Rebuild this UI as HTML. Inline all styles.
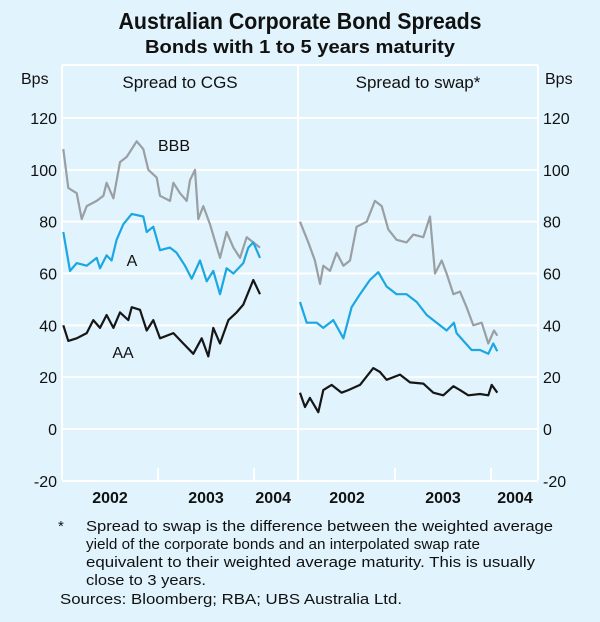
<!DOCTYPE html>
<html><head><meta charset="utf-8"><style>
html,body{margin:0;padding:0;background:#e1f3fc;}
svg{display:block;font-family:"Liberation Sans",Arial,sans-serif;}
</style></head><body>
<svg id="chart" width="600" height="622" viewBox="0 0 600 622">
<rect x="0" y="0" width="600" height="622" fill="#e1f3fc"/>
<text x="300" y="29" text-anchor="middle" font-size="23" font-weight="bold" fill="#111" textLength="363" lengthAdjust="spacingAndGlyphs">Australian Corporate Bond Spreads</text>
<text x="300" y="53" text-anchor="middle" font-size="18" font-weight="bold" fill="#111" textLength="310" lengthAdjust="spacingAndGlyphs">Bonds with 1 to 5 years maturity</text>
<g id="grid"></g>
<g id="series"></g>
<g id="axes"></g>
<text x="21" y="84" font-size="16" fill="#111">Bps</text>
<text x="545" y="84" font-size="16" fill="#111">Bps</text>
<text x="180" y="88" text-anchor="middle" font-size="17" fill="#111">Spread to CGS</text>
<text x="418" y="88" text-anchor="middle" font-size="17" fill="#111">Spread to swap*</text>
<text x="174" y="151" text-anchor="middle" font-size="16" fill="#111">BBB</text>
<text x="132" y="266" text-anchor="middle" font-size="16" fill="#111">A</text>
<text x="123" y="358" text-anchor="middle" font-size="16" fill="#111">AA</text>
<g font-size="15" fill="#111">
<text x="58" y="531">*</text>
<text x="86" y="531" textLength="467" lengthAdjust="spacingAndGlyphs">Spread to swap is the difference between the weighted average</text>
<text x="86" y="549" textLength="394" lengthAdjust="spacingAndGlyphs">yield of the corporate bonds and an interpolated swap rate</text>
<text x="86" y="567" textLength="449" lengthAdjust="spacingAndGlyphs">equivalent to their weighted average maturity. This is usually</text>
<text x="86" y="585" textLength="120" lengthAdjust="spacingAndGlyphs">close to 3 years.</text>
<text x="60" y="604" textLength="342" lengthAdjust="spacingAndGlyphs">Sources: Bloomberg; RBA; UBS Australia Ltd.</text>
</g>
</svg>
<script>
const yTicks = [120,100,80,60,40,20,0,-20];
const yearLabels = ["2002","2003","2004"];
// left panel (time in years since 2002)
const lBBBt = [0.014,0.066,0.153,0.205,0.257,0.361,0.431,0.465,0.535,0.604,0.674,0.778,0.847,0.899,0.986,1.021,1.125,1.160,1.229,1.299,1.333,1.385,1.420,1.472,1.542,1.646,1.715,1.785,1.854,1.924,1.993,2.062];
const lBBBv = [108,93,91,81,86,88,90,95,89,103,105,111,108,100,97,90,88,95,91,88,96,100,81,86,79,66,76,70,66,74,72,70];
const lAt = [0.014,0.083,0.153,0.257,0.361,0.396,0.465,0.517,0.569,0.639,0.726,0.847,0.882,0.951,1.021,1.125,1.194,1.281,1.351,1.437,1.507,1.576,1.646,1.715,1.785,1.889,1.941,1.993,2.062];
const lAv = [76,61,64,63,66,62,67,65,73,79,83,82,76,78,69,70,68,63,58,65,57,61,52,62,60,64,70,72,66];
const lAAt = [0.014,0.066,0.153,0.257,0.326,0.396,0.465,0.535,0.604,0.691,0.726,0.813,0.882,0.951,1.021,1.160,1.264,1.368,1.455,1.524,1.576,1.646,1.733,1.819,1.889,1.993,2.062];
const lAAv = [40,34,35,37,42,39,44,39,45,42,47,46,38,42,35,37,33,29,35,28,39,33,42,45,48,57.5,52];
// right panel
const rBBBt = [0.010,0.097,0.166,0.219,0.253,0.323,0.392,0.462,0.531,0.600,0.705,0.791,0.861,0.930,1.017,1.121,1.191,1.295,1.365,1.417,1.486,1.538,1.608,1.677,1.746,1.816,1.903,1.972,2.031,2.066];
const rBBBv = [80,72,65,56,63,61,68,63,65,78,80,88,86,77,73,72,75,74,82,60,65,60,52,53,47,40,41,33,38,36];
const rAt = [0.010,0.080,0.184,0.253,0.357,0.462,0.548,0.635,0.739,0.826,0.913,1.017,1.121,1.226,1.330,1.434,1.538,1.614,1.642,1.712,1.798,1.885,1.972,2.024,2.066];
const rAv = [49,41,41,39,42,35,47,52,57.5,60.5,55,52,52,49,44,41,38,41,37,34,30.5,30.5,29,33,30];
const rAAt = [0.010,0.062,0.114,0.201,0.253,0.340,0.444,0.514,0.635,0.774,0.844,0.913,1.052,1.156,1.295,1.399,1.503,1.608,1.677,1.764,1.885,1.972,2.007,2.066];
const rAAv = [14,8.5,12,6.5,15,17,14,15,17,23.5,22,19,21,18,17.5,14,13,16.5,15,13,13.5,13,17,14];

const NS = "http://www.w3.org/2000/svg";
const leftX0 = 62, rightX0 = 299, yearW = 96;
function yS(v){ return 429 - v * (429 - 118) / 120; }
function xL(t){ return leftX0 + t * yearW; }
function xR(t){ return rightX0 + t * yearW; }
function mk(tag, attrs, parent){ const e = document.createElementNS(NS, tag); for (const k in attrs) e.setAttribute(k, attrs[k]); parent.appendChild(e); return e; }

const grid = document.getElementById('grid');
const axes = document.getElementById('axes');
const series = document.getElementById('series');
yTicks.forEach(v => {
  const l = mk('line', {x1:62, x2:538, y1:yS(v), y2:yS(v), stroke:'#fff', 'stroke-width':2}, grid);
  
  
  const tl = mk('text', {x:57, y:yS(v)+6, 'text-anchor':'end', 'font-size':16, fill:'#111'}, axes);
  tl.textContent = String(v);
  
  
  const tr = mk('text', {x:543, y:yS(v)+6, 'font-size':16, fill:'#111'}, axes);
  tr.textContent = String(v);
  
  
});
[[62,65,62,480],[298,65,298,480],[538,65,538,480],[62,65,538,65]].forEach(c => {
  const l = mk('line', {x1:c[0], y1:c[1], x2:c[2], y2:c[3], stroke:'#fff', 'stroke-width':2}, grid);
  
  
});
[xL(1), xL(2), xR(1), xR(2)].forEach(x => {
  const l = mk('line', {x1:x, x2:x, y1:468, y2:480, stroke:'#fff', 'stroke-width':2}, grid);
  
  
});
const labPosL = [xL(0.5), xL(1.5), xL(2.2)];
const labPosR = [xR(0.5), xR(1.5), xR(2.25)];
yearLabels.forEach((s, i) => {
  const a = mk('text', {x:labPosL[i], y:503, 'text-anchor':'middle', 'font-size':16, 'font-weight':'bold', fill:'#111'}, axes);
  a.textContent = s;
  
  
  const b = mk('text', {x:labPosR[i], y:503, 'text-anchor':'middle', 'font-size':16, 'font-weight':'bold', fill:'#111'}, axes);
  b.textContent = s;
  
  
});
function line(ts, vs, xf, color, name){
  const d = ts.map((t, i) => (i ? 'L' : 'M') + xf(t).toFixed(1) + ',' + yS(vs[i]).toFixed(1)).join('');
  const p = mk('path', {d:d, fill:'none', stroke:color, 'stroke-width':2.2, 'stroke-linejoin':'round'}, series);
  
  
}
line(lBBBt, lBBBv, xL, '#999fa3', 'cgs-bbb-line');
line(lAt, lAv, xL, '#1ba7e3', 'cgs-a-line');
line(lAAt, lAAv, xL, '#161616', 'cgs-aa-line');
line(rBBBt, rBBBv, xR, '#999fa3', 'swap-bbb-line');
line(rAt, rAv, xR, '#1ba7e3', 'swap-a-line');
line(rAAt, rAAv, xR, '#161616', 'swap-aa-line');
</script>
</body></html>
